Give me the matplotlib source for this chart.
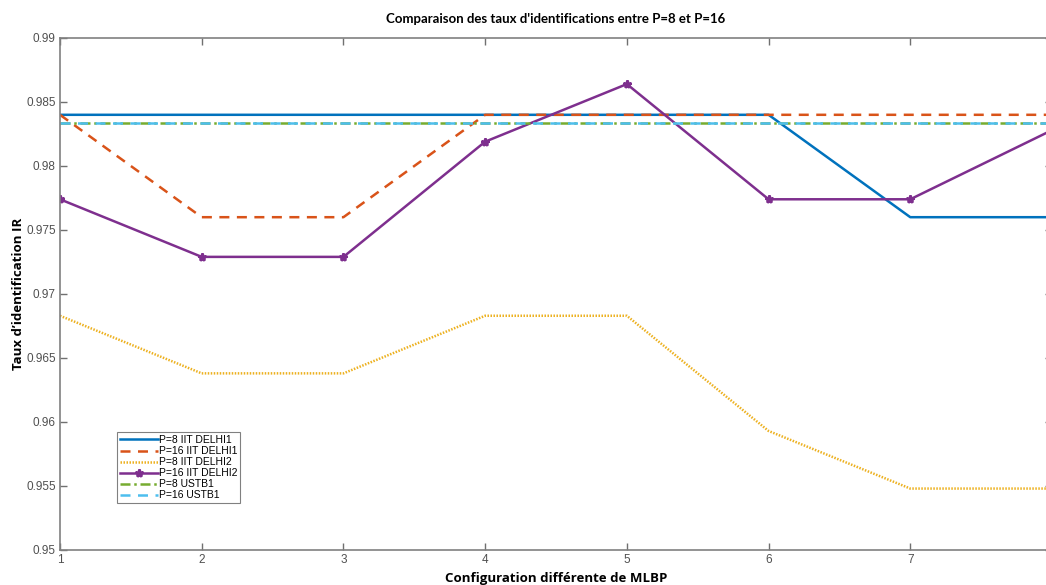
import matplotlib
matplotlib.use("Agg")
import matplotlib.pyplot as plt
from matplotlib.ticker import FuncFormatter

plt.rcParams.update({"font.family": ["Liberation Sans", "DejaVu Sans"]})

# configurations MLBP 1..8
config = [1, 2, 3, 4, 5, 6, 7, 8]
p8_delhi1 = [0.984, 0.984, 0.984, 0.984, 0.984, 0.984, 0.976, 0.976]
p16_delhi1 = [0.984, 0.976, 0.976, 0.984, 0.984, 0.984, 0.984, 0.984]
p8_delhi2 = [0.9683, 0.9638, 0.9638, 0.9683, 0.9683, 0.9593, 0.9548, 0.9548]
p16_delhi2 = [0.9774, 0.9729, 0.9729, 0.9819, 0.9864, 0.9774, 0.9774, 0.9828]
p8_ustb1 = [0.98333] * 8
p16_ustb1 = [0.98333] * 8
xticks = [1, 2, 3, 4, 5, 6, 7]
yticks = [0.95, 0.955, 0.96, 0.965, 0.97, 0.975, 0.98, 0.985, 0.99]

fig = plt.figure(figsize=(10.46, 5.85), dpi=100)
ax = fig.add_axes([60 / 1046, 35 / 585, 992 / 1046, 512 / 585])

lw = 1.8
ax.plot(config, p8_delhi1, color="#0072BD", lw=lw, ls="-", label="P=8 IIT DELHI1")
ax.plot(config, p16_delhi1, color="#D95319", lw=lw, ls=(0, (4, 3)), label="P=16 IIT DELHI1")
ax.plot(config, p8_delhi2, color="#EDB120", lw=lw, ls=(0, (0.6, 0.6)), label="P=8 IIT DELHI2")
ax.plot(config, p16_delhi2, color="#7E2F8E", lw=lw, ls="-", marker="*", ms=6,
        mew=1.8, label="P=16 IIT DELHI2")
ax.plot(config, p8_ustb1, color="#77AC30", lw=lw, ls=(0, (4, 1.5, 1, 1.5)), label="P=8 USTB1")
ax.plot(config, p16_ustb1, color="#4DBEEE", lw=lw, ls=(0, (4, 3)), label="P=16 USTB1")

ax.set_xlim(1, 8)
ax.set_ylim(0.95, 0.99)
ax.set_xticks(xticks)
ax.set_yticks(yticks)
ax.yaxis.set_major_formatter(FuncFormatter(lambda v, _: f"{v:g}"))
ax.tick_params(direction="in", length=5, width=1, color="#707070", labelcolor="#505050",
               labelsize=8.5, top=True, right=True, pad=3)
for s in ax.spines.values():
    s.set_color("#808080")
    s.set_linewidth(1.2)

ax.set_title("Comparaison des taux d'identifications entre P=8 et P=16",
             fontsize=9.5, fontweight="bold", family=["Lato", "DejaVu Sans"], pad=11)
ax.set_xlabel("Configuration différente de MLBP", fontsize=9.5, fontweight="bold",
              family=["Open Sans", "DejaVu Sans"], labelpad=4)
ax.set_ylabel("Taux d’identification IR", fontsize=9.5, fontweight="bold",
              family=["Open Sans", "DejaVu Sans"], labelpad=1)

leg = ax.legend(loc="upper left", bbox_to_anchor=(0.0575, 0.2305), borderaxespad=0,
                fontsize=7.5, fancybox=False, edgecolor="#808080", framealpha=1,
                handlelength=3.6, handletextpad=0.1, labelspacing=0.1,
                borderpad=0.3)
leg.get_frame().set_linewidth(0.8)

fig.savefig("out.png", dpi=100)
